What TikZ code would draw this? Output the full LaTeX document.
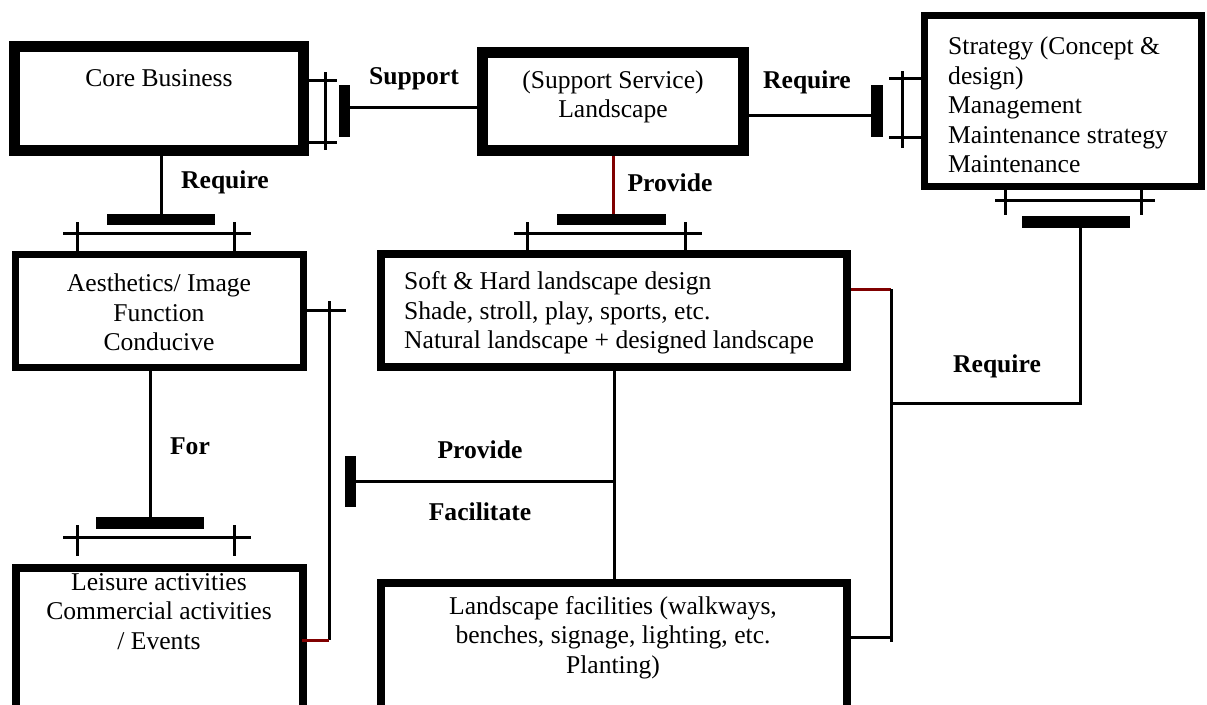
\documentclass[tikz,border=0pt]{standalone}
\usepackage{fontspec}
\setmainfont{Liberation Serif}
\usetikzlibrary{positioning}
\definecolor{linkred}{RGB}{128,0,0}
\newcommand{\diafont}{\fontsize{25.6pt}{29.5pt}\selectfont}
\tikzset{
  boxframe/.style={
    draw,
    line width = 8pt,
    inner sep = 0pt
  },
  thickframe/.style={
    boxframe,
    line width = 11pt
  },
  tbar/.style={
    fill,
    inner sep = 0pt,
    outer sep = 0pt
  },
  link/.style={
    line width = 3pt
  },
  redlink/.style={
    link,
    draw = linkred
  },
  rail/.style={
    line width = 3pt
  },
  txt/.style={
    font = \diafont,
    inner sep = 0pt,
    align = center
  },
  rel/.style={
    font = \diafont\bfseries,
    inner sep = 0pt
  }
}
\begin{document}
\begin{tikzpicture}[x=1pt, y=-1pt]
    \clip (0,0) rectangle (1207,704);
    % boxes
    \node[thickframe, minimum width=289pt, minimum height=104pt] (core) at (159,98.5) {};
    \node[thickframe, minimum width=261pt, minimum height=98pt] (land) at (613,101.5) {};
    \node[boxframe, line width=7pt, minimum width=277pt, minimum height=171pt] (strat) at (1063,101) {};
    \node[boxframe, line width=7pt, minimum width=288pt, minimum height=113pt] (aest) at (159.5,311) {};
    \node[boxframe, minimum width=466pt, minimum height=113pt] (soft) at (614,310.5) {};
    \node[boxframe, minimum width=287pt, minimum height=144pt] (leis) at (159.5,640) {};
    \node[boxframe, minimum width=466pt, minimum height=129pt] (fac) at (614,647.5) {};
    % box texts
    \node[txt] (core-t) at (159,78) {Core Business};
    \node[txt] (land-t) at (613,97) {(Support Service)\\Landscape};
    \node[txt, align=left, anchor=west] (strat-t) at (948,105) {Strategy (Concept \&\\design)\\Management\\Maintenance strategy\\Maintenance};
    \node[txt] (aest-t) at (159,312.5) {Aesthetics/ Image\\Function\\Conducive};
    \node[txt, align=left, anchor=west] (soft-t) at (404,313) {Soft \& Hard landscape design\\Shade, stroll, play, sports, etc.\\Natural landscape + designed landscape};
    \node[txt] (leis-t) at (159,611.5) {Leisure activities\\Commercial activities\\/ Events};
    \node[txt] (fac-t) at (613,637.5) {Landscape facilities (walkways,\\benches, signage, lighting, etc.\\Planting)};
    % bars
    \node[tbar, minimum width=11pt, minimum height=52pt] (supbar) at (344.5,111) {};
    \node[tbar, minimum width=12pt, minimum height=52pt] (reqbar) at (877,111) {};
    \node[tbar, minimum width=108pt, minimum height=11pt] (corebar) at (161,219.5) {};
    \node[tbar, minimum width=109pt, minimum height=11pt] (landbar) at (611.5,219.5) {};
    \node[tbar, minimum width=108pt, minimum height=12pt] (stratbar) at (1076,222) {};
    \node[tbar, minimum width=108pt, minimum height=12pt] (aestbar) at (150,523) {};
    \node[tbar, minimum width=11pt, minimum height=51pt] (facbar) at (350.5,481.5) {};
    % rails
    \draw[rail] (325,72) -- (325,150);
    \draw[rail] (309,80) -- (337,80);
    \draw[rail] (309,142) -- (337,142);
    \draw[rail] (902,71) -- (902,148);
    \draw[rail] (889,78) -- (921,78);
    \draw[rail] (889,137) -- (921,137);
    \draw[rail] (63,233) -- (251,233);
    \draw[rail] (77,222) -- (77,251);
    \draw[rail] (234,222) -- (234,251);
    \draw[rail] (514,233) -- (702,233);
    \draw[rail] (527,222) -- (527,250);
    \draw[rail] (685,222) -- (685,250);
    \draw[rail] (995,200) -- (1155,200);
    \draw[rail] (1005,190) -- (1005,215);
    \draw[rail] (1141,190) -- (1141,215);
    \draw[rail] (63,537) -- (251,537);
    \draw[rail] (77,525) -- (77,556);
    \draw[rail] (234,525) -- (234,556);
    % connectors
    \coordinate (rtop) at (891,289);
    \coordinate (rbot) at (891,637);
    \coordinate (ltop) at (329,310);
    \coordinate (lbot) at (329,640);
    \draw[link] ([yshift=4pt]supbar.east) -- ([yshift=4pt]supbar.east -| land.west);
    \draw[link] ([yshift=-4pt]reqbar.west -| land.east) -- ([yshift=-4pt]reqbar.west);
    \draw[link] (corebar.north |- core.south) -- (corebar.north);
    \draw[redlink] (land.south) -- (land.south |- landbar.north);
    \draw[link] (aestbar.north |- aest.south) -- (aestbar.north);
    \draw[link] (soft.south) -- (fac.north);
    \draw[link] (soft.south |- facbar.east) -- (facbar.east);
    \draw[redlink] (soft.east |- rtop) -- (rtop);
    \draw[link] (rtop) -- ([yshift=-5pt]rbot);
    \draw[link] (fac.east |- rbot) -- (rbot);
    \draw[link] ([xshift=4pt]stratbar.south) |- (891,403);
    \draw[link] (aest.east |- ltop) -- ([xshift=17pt]ltop);
    \draw[link] ([yshift=9pt]ltop) -- (lbot);
    \draw[redlink] ([xshift=-5pt]leis.east |- lbot) -- (lbot);
    % labels
    \node[rel] (support-l) at (414,79) {Support};
    \node[rel] (req1-l) at (807,82) {Require};
    \node[rel] (req2-l) at (225,182) {Require};
    \node[rel] (prov1-l) at (670,183) {Provide};
    \node[rel] (for-l) at (190,446) {For};
    \node[rel] (prov2-l) at (480,450) {Provide};
    \node[rel] (facil-l) at (480,512) {Facilitate};
    \node[rel] (req3-l) at (997,366) {Require};
\end{tikzpicture}
\end{document}
